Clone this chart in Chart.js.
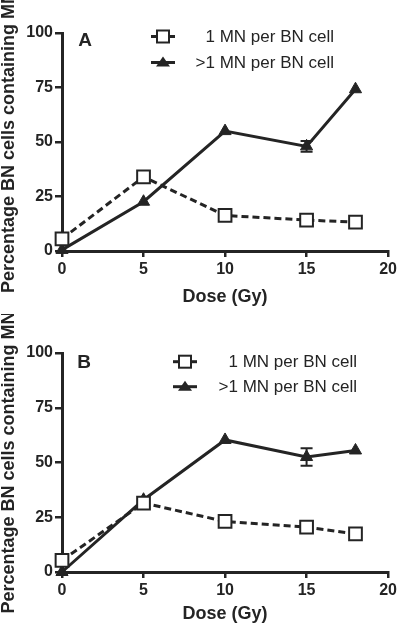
<!DOCTYPE html>
<html>
<head>
<meta charset="utf-8">
<script src="https://cdn.jsdelivr.net/npm/chart.js@4.4.1/dist/chart.umd.min.js"></script>
<style>
  html, body { margin: 0; padding: 0; background: #fff; }
  .panel { width: 400px; height: 314px; }
  canvas { display: block; }
</style>
</head>
<body>
<div class="panel"><canvas id="chartA" width="400" height="314"></canvas></div>
<div class="panel"><canvas id="chartB" width="400" height="314"></canvas></div>
<script>
// data
const doses       = [0, 5, 10, 15, 18];
const seriesNames = ['1 MN per BN cell', '>1 MN per BN cell'];

const oneMnA      = [5.6, 34, 16.3, 14.2, 13.2];
const oneMnErrA   = [0, 0, 1.5, 0, 0];
const multiMnA    = [0.5, 22.6, 55, 48, 74.2];
const multiMnErrA = [0, 0, 0, 2.5, 0];

const oneMnB      = [5.3, 31.5, 23.1, 20.5, 17.4];
const oneMnErrB   = [0, 0, 0, 0, 0];
const multiMnB    = [0, 33, 60.3, 52.5, 55.5];
const multiMnErrB = [0, 0, 0, 4, 0];

const ink  = '#242424';
const font = '"Liberation Sans", Arial, sans-serif';

const toPoints = vals => doses.map((d, i) => ({ x: d, y: vals[i] }));

// vertical error bars with caps, drawn before the markers
const errorBars = {
  id: 'errorBars',
  beforeDatasetsDraw(chart) {
    const { ctx, scales: { x, y } } = chart;
    ctx.save();
    ctx.strokeStyle = ink;
    ctx.lineWidth = 2;
    chart.data.datasets.forEach(ds => {
      if (!ds.errors) return;
      ds.data.forEach((p, i) => {
        const e = ds.errors[i];
        if (!e) return;
        const px = x.getPixelForValue(p.x);
        const top = y.getPixelForValue(p.y + e);
        const bot = y.getPixelForValue(p.y - e);
        ctx.beginPath();
        ctx.moveTo(px, top); ctx.lineTo(px, bot);
        ctx.moveTo(px - 6, top); ctx.lineTo(px + 6, top);
        ctx.moveTo(px - 6, bot); ctx.lineTo(px + 6, bot);
        ctx.stroke();
      });
    });
    ctx.restore();
  }
};

// panel letter and legend
function overlay(o) {
  return {
    id: 'overlay',
    afterDraw(chart) {
      const ctx = chart.ctx;
      ctx.save();
      ctx.fillStyle = ink;
      ctx.strokeStyle = ink;
      ctx.font = 'bold 19px ' + font;
      ctx.textAlign = 'center';
      ctx.textBaseline = 'middle';
      ctx.fillText(o.letter, o.letterX, o.letterY);

      ctx.font = '17px ' + font;
      ctx.textAlign = 'right';
      o.rows.forEach((ry, i) => {
        // sample line
        ctx.lineWidth = 3;
        ctx.beginPath();
        ctx.moveTo(o.sampleX - 12, ry);
        ctx.lineTo(o.sampleX + 12, ry);
        ctx.stroke();
        if (i === 0) {
          ctx.fillStyle = '#fff';
          ctx.lineWidth = 2;
          ctx.fillRect(o.sampleX - 6, ry - 6, 12, 12);
          ctx.strokeRect(o.sampleX - 6, ry - 6, 12, 12);
          ctx.fillStyle = ink;
        } else {
          ctx.beginPath();
          ctx.moveTo(o.sampleX, ry - 6);
          ctx.lineTo(o.sampleX + 7, ry + 4);
          ctx.lineTo(o.sampleX - 7, ry + 4);
          ctx.closePath();
          ctx.fill();
        }
        ctx.fillText(seriesNames[i], o.textRight, ry + 1);
      });
      ctx.restore();
    }
  };
}

function makePanel(id, oneMn, oneErr, multiMn, multiErr, p) {
  return new Chart(document.getElementById(id), {
    type: 'line',
    data: {
      datasets: [
        {
          label: seriesNames[0],
          data: toPoints(oneMn),
          errors: oneErr,
          borderColor: ink,
          borderWidth: 3,
          borderDash: [7, 4],
          pointStyle: 'rect',
          pointRadius: 9,
          pointBorderWidth: 2,
          pointBorderColor: ink,
          pointBackgroundColor: '#fff',
          clip: false
        },
        {
          label: seriesNames[1],
          data: toPoints(multiMn),
          errors: multiErr,
          borderColor: ink,
          borderWidth: 3,
          pointStyle: 'triangle',
          pointRadius: 7,
          pointBorderWidth: 1,
          pointBorderColor: ink,
          pointBackgroundColor: ink,
          clip: false
        }
      ]
    },
    options: {
      responsive: false,
      animation: false,
      layout: { padding: { top: p.top, right: 8, bottom: 0, left: 0 } },
      plugins: { legend: { display: false }, tooltip: { enabled: false } },
      scales: {
        x: {
          type: 'linear',
          min: 0, max: 20,
          afterFit: s => { s.height = p.xHeight; },
          ticks: { stepSize: 5, color: ink, padding: 3, font: { family: font, size: 16, weight: 'bold' } },
          grid: { drawOnChartArea: false, drawTicks: true, tickLength: 6, color: ink, lineWidth: 2.5 },
          border: { color: ink, width: 3 },
          title: {
            display: true, text: 'Dose (Gy)', color: ink,
            font: { family: font, size: 18, weight: 'bold', lineHeight: 1 },
            padding: { top: 0, bottom: p.xTitlePad }
          }
        },
        y: {
          min: 0, max: 100,
          afterFit: s => { s.width = 62; },
          ticks: { stepSize: 25, color: ink, padding: 2, font: { family: font, size: 16, weight: 'bold' } },
          grid: { drawOnChartArea: false, drawTicks: true, tickLength: 7, color: ink, lineWidth: 2.5 },
          border: { color: ink, width: 3 },
          title: {
            display: true, text: 'Percentage BN cells containing MN', color: ink,
            font: { family: font, size: 18, weight: 'bold', lineHeight: 1 },
            padding: { top: 0, bottom: 0 }
          }
        }
      }
    },
    plugins: [errorBars, overlay(p.overlay)]
  });
}

makePanel('chartA', oneMnA, oneMnErrA, multiMnA, multiMnErrA, {
  top: 33, xHeight: 63, xTitlePad: 8,
  overlay: { letter: 'A', letterX: 85, letterY: 41, sampleX: 163, textRight: 334, rows: [36.5, 62.5] }
});

makePanel('chartB', oneMnB, oneMnErrB, multiMnB, multiMnErrB, {
  top: 39, xHeight: 56, xTitlePad: 5,
  overlay: { letter: 'B', letterX: 84, letterY: 49, sampleX: 185, textRight: 357, rows: [47.7, 72.7] }
});
</script>
</body>
</html>
